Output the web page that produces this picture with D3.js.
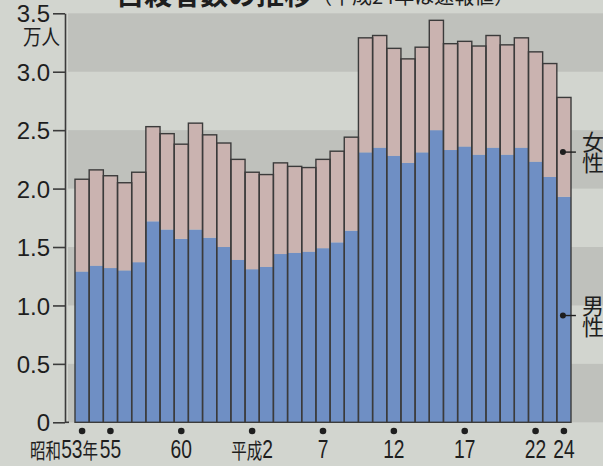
<!DOCTYPE html>
<html>
<head>
<meta charset="utf-8">
<script src="https://cdn.jsdelivr.net/npm/d3@7"></script>
<style>
  html, body { margin: 0; padding: 0; background: #d2d5cf; }
  svg { display: block; }
  .cjk { font-family: "Noto Sans CJK JP", sans-serif; }
  .num { font-family: "Liberation Sans", Arial, sans-serif; }
</style>
</head>
<body>
<div id="main"></div>
<script>
'use strict';

// data (万人)
const years = [1978, 1979, 1980, 1981, 1982, 1983, 1984, 1985, 1986, 1987,
  1988, 1989, 1990, 1991, 1992, 1993, 1994, 1995, 1996, 1997,
  1998, 1999, 2000, 2001, 2002, 2003, 2004, 2005, 2006, 2007,
  2008, 2009, 2010, 2011, 2012];
const male = [1.29, 1.34, 1.32, 1.30, 1.37, 1.72, 1.65, 1.57, 1.65, 1.58,
  1.50, 1.39, 1.31, 1.33, 1.44, 1.45, 1.46, 1.49, 1.54, 1.64,
  2.31, 2.35, 2.28, 2.22, 2.31, 2.50, 2.33, 2.36, 2.29, 2.35,
  2.29, 2.35, 2.23, 2.10, 1.93];
const female = [0.79, 0.82, 0.79, 0.75, 0.77, 0.81, 0.82, 0.81, 0.91, 0.88,
  0.89, 0.86, 0.83, 0.79, 0.78, 0.74, 0.72, 0.76, 0.78, 0.80,
  0.98, 0.96, 0.92, 0.89, 0.90, 0.94, 0.91, 0.90, 0.93, 0.96,
  0.94, 0.94, 0.94, 0.97, 0.85];
const yTicks = [0, 0.5, 1.0, 1.5, 2.0, 2.5, 3.0, 3.5];
const yTickLabels = ['0', '0.5', '1.0', '1.5', '2.0', '2.5', '3.0', '3.5'];
const xTickYears = [1978, 1980, 1985, 1990, 1995, 2000, 2005, 2010, 2012];
const xTickLabels = ['昭和53年', '55', '60', '平成2', '7', '12', '17', '22', '24'];

// configuration
const canvas = { width: 603, height: 466 };
const colors = {
  bgLight: '#d2d5cf',
  bgDark: '#bfc1bc',
  male: '#6f8fc4',
  female: '#cab3b0',
  stroke: '#3b3b3b',
  text: '#1e1e1e'
};

const svg = d3.select('#main').append('svg')
  .attr('width', canvas.width)
  .attr('height', canvas.height);

const x = d3.scaleBand().domain(years).range([75, 571]).padding(0);
const y = d3.scaleLinear().domain([0, 3.5]).range([422.3, 13.3]);

// background
svg.append('rect')
  .attr('width', canvas.width).attr('height', canvas.height)
  .attr('fill', colors.bgLight);

// alternating bands
svg.append('g').selectAll('rect')
  .data(yTicks.slice(0, -1).filter((d, i) => i % 2 === 0 || false))
  .enter().append('rect')
  .attr('x', 68)
  .attr('width', canvas.width - 68)
  .attr('y', d => y(d + 0.5))
  .attr('height', d => y(d) - y(d + 0.5))
  .attr('fill', colors.bgDark);

// stacked bars
const rows = years.map((yr, i) => ({ year: yr, male: male[i], female: female[i] }));
const stack = d3.stack().keys(['male', 'female'])(rows);

svg.append('g').selectAll('g')
  .data(stack)
  .enter().append('g')
  .attr('fill', d => colors[d.key])
  .selectAll('rect')
  .data(d => d)
  .enter().append('rect')
  .attr('x', d => x(d.data.year))
  .attr('width', x.bandwidth())
  .attr('y', d => y(d[1]))
  .attr('height', d => y(d[0]) - y(d[1]));

// outlines
svg.append('g').selectAll('rect')
  .data(rows)
  .enter().append('rect')
  .attr('x', d => x(d.year))
  .attr('width', x.bandwidth())
  .attr('y', d => y(d.male + d.female))
  .attr('height', d => y(0) - y(d.male + d.female))
  .attr('fill', 'none')
  .attr('stroke', colors.stroke)
  .attr('stroke-width', 1.4);

// y axis
const yAxis = svg.append('g')
  .attr('transform', 'translate(65,0)')
  .call(d3.axisLeft(y)
    .tickValues(yTicks)
    .tickFormat((d, i) => yTickLabels[i])
    .tickSize(12)
    .tickSizeOuter(0)
    .tickPadding(3));
yAxis.select('.domain').attr('stroke', colors.stroke).attr('stroke-width', 1.6);
yAxis.selectAll('.tick line').attr('stroke', colors.stroke).attr('stroke-width', 1.6);
yAxis.selectAll('.tick text')
  .attr('class', 'num')
  .attr('font-size', 24)
  .attr('fill', colors.text)
  .attr('dy', '0.36em');
svg.append('line')
  .attr('x1', 65).attr('x2', 69)
  .attr('y1', y(0)).attr('y2', y(0))
  .attr('stroke', colors.stroke).attr('stroke-width', 1.6);

svg.append('text')
  .attr('class', 'cjk')
  .attr('x', 60).attr('y', 44)
  .attr('text-anchor', 'end')
  .attr('font-size', 21)
  .attr('fill', colors.text)
  .attr('transform', 'translate(60,0) scale(0.88,1) translate(-60,0)')
  .text('万人');

// x ticks: dots and labels
const xg = svg.append('g');
xg.selectAll('circle')
  .data(xTickYears)
  .enter().append('circle')
  .attr('cx', d => x(d) + x.bandwidth() / 2)
  .attr('cy', 431)
  .attr('r', 3.3)
  .attr('fill', colors.text);

xTickYears.forEach(function (yr, i) {
  const cx = x(yr) + x.bandwidth() / 2 + (i === 0 ? 16 : 0);
  const t = xg.append('text')
    .attr('class', 'num')
    .attr('text-anchor', i === 0 ? 'end' : 'middle')
    .attr('y', 458)
    .attr('font-size', 26)
    .attr('fill', colors.text)
    .attr('transform', 'translate(' + cx + ',0) scale(0.74,1)');
  // split digits and CJK runs
  xTickLabels[i].match(/[0-9]+|[^0-9]+/g).forEach(function (part) {
    const isNum = /[0-9]/.test(part);
    t.append('tspan')
      .attr('font-family', isNum ? '"Liberation Sans", Arial, sans-serif' : '"Noto Sans CJK JP", sans-serif')
      .attr('font-size', isNum ? 26 : 21)
      .text(part);
  });
});

// legend annotations (pointing into last bar)
const last = rows[rows.length - 1];
const lx = x(last.year) + x.bandwidth() / 2 - 1;
const legend = [
  { chars: ['女', '性'], v: last.male + last.female / 2, dy: 5 },
  { chars: ['男', '性'], v: last.male / 2, dy: 6 }
];
legend.forEach(function (d) {
  const cy = y(d.v) + d.dy;
  svg.append('circle').attr('cx', lx).attr('cy', cy).attr('r', 3).attr('fill', colors.text);
  svg.append('line')
    .attr('x1', lx).attr('x2', lx + 13)
    .attr('y1', cy).attr('y2', cy)
    .attr('stroke', colors.text).attr('stroke-width', 1.4);
  d.chars.forEach(function (c, k) {
    svg.append('text')
      .attr('class', 'cjk')
      .attr('x', 582)
      .attr('y', cy + (k === 0 ? -2 : 19))
      .attr('font-size', 22)
      .attr('fill', colors.text)
      .text(c);
  });
});

// title (cut off at the top in the source)
const title = svg.append('text')
  .attr('class', 'cjk')
  .attr('x', 116)
  .attr('y', 5)
  .attr('fill', colors.text);
title.append('tspan').attr('font-size', 28).attr('font-weight', 'bold').text('自殺者数の推移');
title.append('tspan').attr('font-size', 20).attr('dy', -1).text('（平成24年は速報値）');
</script>
</body>
</html>
